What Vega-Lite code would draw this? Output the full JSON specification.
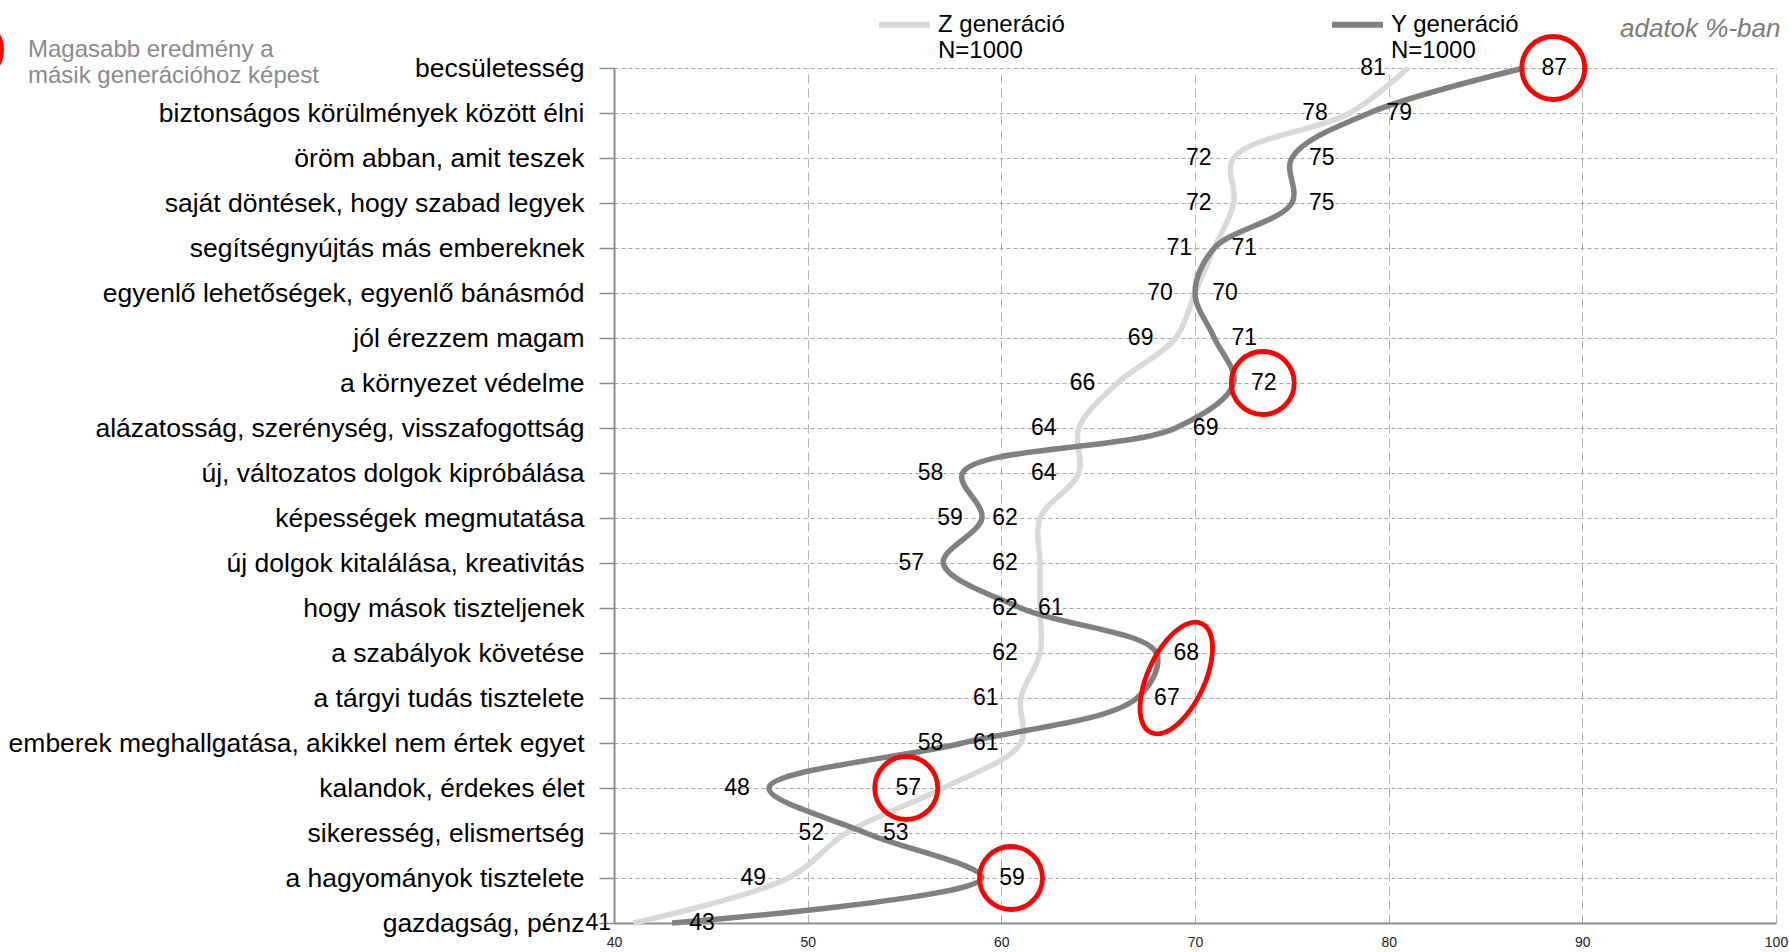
{
  "$schema": "https://vega.github.io/schema/vega-lite/v6.json",
  "width": 1162,
  "height": 855,
  "autosize": {"type": "none"},
  "padding": {"left": 614, "top": 68, "right": 13, "bottom": 29},
  "background": "white",
  "config": {"view": {"stroke": null}, "font": "Liberation Sans"},
  "data": {
    "values": [
      {"rank": 1, "item": "becsületesség", "Z": 81, "Y": 87, "sig": "Y"},
      {"rank": 2, "item": "biztonságos körülmények között élni", "Z": 78, "Y": 79, "sig": ""},
      {"rank": 3, "item": "öröm abban, amit teszek", "Z": 72, "Y": 75, "sig": ""},
      {"rank": 4, "item": "saját döntések, hogy szabad legyek", "Z": 72, "Y": 75, "sig": ""},
      {"rank": 5, "item": "segítségnyújtás más embereknek", "Z": 71, "Y": 71, "sig": ""},
      {"rank": 6, "item": "egyenlő lehetőségek, egyenlő bánásmód", "Z": 70, "Y": 70, "sig": ""},
      {"rank": 7, "item": "jól érezzem magam", "Z": 69, "Y": 71, "sig": ""},
      {"rank": 8, "item": "a környezet védelme", "Z": 66, "Y": 72, "sig": "Y"},
      {"rank": 9, "item": "alázatosság, szerénység, visszafogottság", "Z": 64, "Y": 69, "sig": ""},
      {"rank": 10, "item": "új, változatos dolgok kipróbálása", "Z": 64, "Y": 58, "sig": ""},
      {"rank": 11, "item": "képességek megmutatása", "Z": 62, "Y": 59, "sig": ""},
      {"rank": 12, "item": "új dolgok kitalálása, kreativitás", "Z": 62, "Y": 57, "sig": ""},
      {"rank": 13, "item": "hogy mások tiszteljenek", "Z": 62, "Y": 61, "sig": ""},
      {"rank": 14, "item": "a szabályok követése", "Z": 62, "Y": 68, "sig": "Y"},
      {"rank": 15, "item": "a tárgyi tudás tisztelete", "Z": 61, "Y": 67, "sig": "Y"},
      {"rank": 16, "item": "emberek meghallgatása, akikkel nem értek egyet", "Z": 61, "Y": 58, "sig": ""},
      {"rank": 17, "item": "kalandok, érdekes élet", "Z": 57, "Y": 48, "sig": "Z"},
      {"rank": 18, "item": "sikeresség, elismertség", "Z": 52, "Y": 53, "sig": ""},
      {"rank": 19, "item": "a hagyományok tisztelete", "Z": 49, "Y": 59, "sig": "Y"},
      {"rank": 20, "item": "gazdagság, pénz", "Z": 41, "Y": 43, "sig": ""}
    ]
  },
  "transform": [{"fold": ["Z", "Y"], "as": ["gen", "value"]}],
  "encoding": {
    "y": {
      "field": "item",
      "type": "nominal",
      "sort": {"field": "rank", "op": "min"},
      "scale": {"type": "point", "padding": 0},
      "axis": {
        "title": null,
        "grid": true,
        "gridDash": [4, 3],
        "gridColor": "#a6a6a6",
        "gridWidth": 1,
        "domainColor": "#8c8c8c",
        "domainWidth": 2,
        "tickColor": "#8c8c8c",
        "tickSize": 15,
        "tickWidth": 1.5,
        "labelFont": "Liberation Sans",
        "labelFontSize": 26.5,
        "labelColor": "#000000",
        "labelPadding": 15,
        "labelLimit": 800
      }
    },
    "x": {
      "field": "value",
      "type": "quantitative",
      "scale": {"domain": [40, 100], "nice": false, "zero": false},
      "axis": {
        "title": null,
        "values": [40, 50, 60, 70, 80, 90, 100],
        "grid": true,
        "gridDash": [9, 5],
        "gridColor": "#b3b3b3",
        "gridWidth": 1,
        "domainColor": "#8c8c8c",
        "domainWidth": 2,
        "ticks": false,
        "labelFont": "Liberation Sans",
        "labelFontSize": 14,
        "labelColor": "#222222",
        "labelPadding": 12,
        "labelFlush": false,
        "labelOverlap": false
      }
    }
  },
  "layer": [
    {
      "transform": [{"filter": "datum.gen == 'Z'"}],
      "mark": {"type": "line", "interpolate": "catmull-rom", "strokeWidth": 5.5},
      "encoding": {
        "order": {"field": "rank", "type": "quantitative"},
        "stroke": {
          "field": "gen",
          "type": "nominal",
          "scale": {"domain": ["Z", "Y"], "range": ["#d9d9d9", "#808080"]},
          "legend": {
            "orient": "none",
            "legendX": 262,
            "legendY": -72,
            "direction": "horizontal",
            "title": "adatok %-ban",
            "titleOrient": "right",
            "titlePadding": 101,
            "titleAnchor": "middle",
            "titleBaseline": "middle",
            "titleFont": "Liberation Sans",
            "titleFontSize": 26,
            "titleFontStyle": "italic",
            "titleFontWeight": "normal",
            "titleColor": "#7a7a7a",
            "titleLimit": 400,
            "padding": 0,
            "symbolType": "stroke",
            "symbolSize": 2601,
            "symbolStrokeWidth": 6,
            "labelFont": "Liberation Sans",
            "labelFontSize": 24,
            "labelColor": "#000000",
            "labelOffset": 5,
            "labelLimit": 400,
            "labelBaseline": "middle",
            "columnPadding": 255,
            "labelExpr": "[datum.label + ' generáció', 'N=1000']"
          }
        }
      }
    },
    {
      "transform": [{"filter": "datum.gen == 'Y'"}],
      "mark": {"type": "line", "interpolate": "catmull-rom", "strokeWidth": 5.5},
      "encoding": {
        "order": {"field": "rank", "type": "quantitative"},
        "stroke": {
          "field": "gen",
          "type": "nominal",
          "scale": {"domain": ["Z", "Y"], "range": ["#d9d9d9", "#808080"]}
        }
      }
    },
    {
      "transform": [{"filter": "datum.gen == 'Z'"}],
      "mark": {"type": "text", "font": "Liberation Sans", "fontSize": 23, "color": "#000000", "baseline": "middle", "align": "center", "dx": -35},
      "encoding": {"text": {"field": "value", "type": "quantitative"}}
    },
    {
      "transform": [{"filter": "datum.gen == 'Y' && datum.Y >= datum.Z - 1"}],
      "mark": {"type": "text", "font": "Liberation Sans", "fontSize": 23, "color": "#000000", "baseline": "middle", "align": "center", "dx": 30},
      "encoding": {"text": {"field": "value", "type": "quantitative"}}
    },
    {
      "transform": [{"filter": "datum.gen == 'Y' && datum.Y < datum.Z - 1"}],
      "mark": {"type": "text", "font": "Liberation Sans", "fontSize": 23, "color": "#000000", "baseline": "middle", "align": "center", "dx": -32},
      "encoding": {"text": {"field": "value", "type": "quantitative"}}
    },
    {
      "transform": [{"filter": "datum.sig == datum.gen && datum.gen == 'Y' && datum.item != 'a szabályok követése' && datum.item != 'a tárgyi tudás tisztelete'"}],
      "mark": {"type": "point", "filled": false, "stroke": "#ff0000", "strokeWidth": 4.8, "size": 3970, "xOffset": 29, "opacity": 1},
      "encoding": {
        "shape": {
          "datum": "Magasabb eredmény a másik generációhoz képest",
          "scale": {"range": ["circle"]},
          "legend": {
            "orient": "none",
            "legendX": -678,
            "legendY": -52,
            "title": null,
            "padding": 0,
            "symbolType": "circle",
            "symbolSize": 3970,
            "symbolStrokeWidth": 4.8,
            "symbolStrokeColor": "#ff0000",
            "symbolFillColor": "transparent",
            "symbolOpacity": 1,
            "labelFont": "Liberation Sans",
            "labelFontSize": 24,
            "labelColor": "#8a8a8a",
            "labelOffset": 24,
            "labelLimit": 400,
            "labelBaseline": "middle",
            "labelExpr": "['Magasabb eredmény a', 'másik generációhoz képest']"
          }
        }
      }
    },
    {
      "transform": [{"filter": "datum.sig == datum.gen && datum.gen == 'Z'"}],
      "mark": {"type": "point", "filled": false, "stroke": "#ff0000", "strokeWidth": 4.8, "size": 3970, "xOffset": -37, "opacity": 1},
      "encoding": {
        "shape": {
          "datum": "Magasabb eredmény a másik generációhoz képest",
          "scale": {"range": ["circle"]}
        }
      }
    },
    {
      "transform": [{"filter": "datum.gen == 'Y' && datum.item == 'a szabályok követése'"}],
      "mark": {
        "type": "point",
        "filled": false,
        "stroke": "#ff0000",
        "strokeWidth": 4.8,
        "size": 14400,
        "xOffset": 20,
        "yOffset": 25,
        "opacity": 1,
        "shape": "M0.423,-0.906A1,0.467,-65,1,0,-0.423,0.906A1,0.467,-65,1,0,0.423,-0.906Z"
      }
    }
  ]
}
